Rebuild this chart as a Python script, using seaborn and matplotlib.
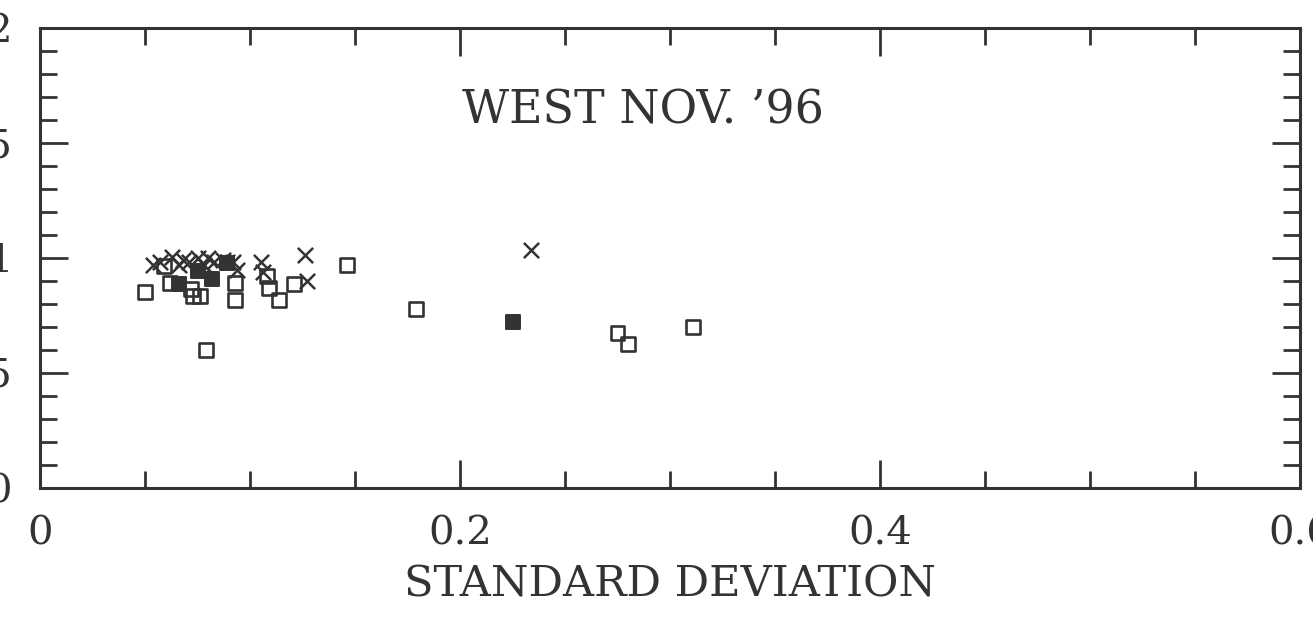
import matplotlib
matplotlib.use("Agg")
import matplotlib.pyplot as plt
import seaborn as sns
import pandas as pd
from matplotlib.ticker import MultipleLocator

# --- data ---
cross_sd = [0.054, 0.057, 0.063, 0.066, 0.068, 0.071, 0.075, 0.078, 0.080, 0.083,
            0.087, 0.089, 0.092, 0.094, 0.105, 0.106, 0.126, 0.127, 0.234]
cross_val = [0.970, 0.983, 1.004, 0.970, 0.991, 0.983, 1.000, 0.970, 1.000, 0.983,
             0.991, 0.983, 0.983, 0.948, 0.983, 0.939, 1.013, 0.900, 1.035]

open_sd = [0.050, 0.059, 0.062, 0.072, 0.073, 0.076, 0.079, 0.093, 0.093, 0.108,
           0.109, 0.114, 0.121, 0.146, 0.179, 0.275, 0.280, 0.311]
open_val = [0.852, 0.965, 0.891, 0.865, 0.835, 0.835, 0.600, 0.891, 0.817, 0.922,
            0.870, 0.817, 0.887, 0.970, 0.778, 0.674, 0.626, 0.700]

filled_sd = [0.066, 0.075, 0.082, 0.089, 0.225]
filled_val = [0.887, 0.943, 0.909, 0.978, 0.722]

title_text = "WEST NOV. \u201996"
x_label = "STANDARD DEVIATION"
x_ticks = [0, 0.2, 0.4, 0.6]
x_ticklabels = ["0", "0.2", "0.4", "0.6"]
y_ticks = [0, 0.5, 1, 1.5, 2]
y_ticklabels = ["0", "0.5", "1", "1.5", "2"]

sns.set_style("white")
plt.rcParams['font.family'] = ['DejaVu Serif', 'DejaVu Sans']

ink = "#333333"
fig = plt.figure(figsize=(13.13, 6.17), dpi=100)
ax = fig.add_axes([40/1313, 129/617, 1260/1313, 460/617])

df_c = pd.DataFrame({"sd": cross_sd, "v": cross_val})
df_o = pd.DataFrame({"sd": open_sd, "v": open_val})
df_f = pd.DataFrame({"sd": filled_sd, "v": filled_val})

sns.scatterplot(data=df_c, x="sd", y="v", marker="x", s=120, color=ink,
                linewidth=1.8, ax=ax, legend=False, zorder=3)
sns.scatterplot(data=df_o, x="sd", y="v", marker="s", s=100, facecolor="none",
                edgecolor=ink, linewidth=1.9, ax=ax, legend=False, zorder=3)
sns.scatterplot(data=df_f, x="sd", y="v", marker="s", s=100, color=ink,
                edgecolor=ink, linewidth=1.4, ax=ax, legend=False, zorder=4)

ax.set_xlim(0, 0.6)
ax.set_ylim(0, 2)
ax.set_xticks(x_ticks)
ax.set_xticklabels(x_ticklabels)
ax.set_yticks(y_ticks)
ax.set_yticklabels(y_ticklabels)
ax.xaxis.set_minor_locator(MultipleLocator(0.05))
ax.yaxis.set_minor_locator(MultipleLocator(0.1))
ax.tick_params(which="both", direction="in", top=True, right=True,
               bottom=True, left=True, color=ink, width=2)
ax.tick_params(which="major", length=20, labelsize=29, labelcolor=ink, pad=20)
ax.tick_params(which="minor", length=12)
for s in ax.spines.values():
    s.set_linewidth(2.2)
    s.set_color(ink)
    s.set_visible(True)

ax.set_xlabel(x_label, fontsize=31, color=ink, labelpad=8)
ax.set_ylabel("")
ax.text(0.201, 1.64, title_text, fontsize=33, color=ink, ha="left", va="center")

fig.savefig("out.png", dpi=100)
